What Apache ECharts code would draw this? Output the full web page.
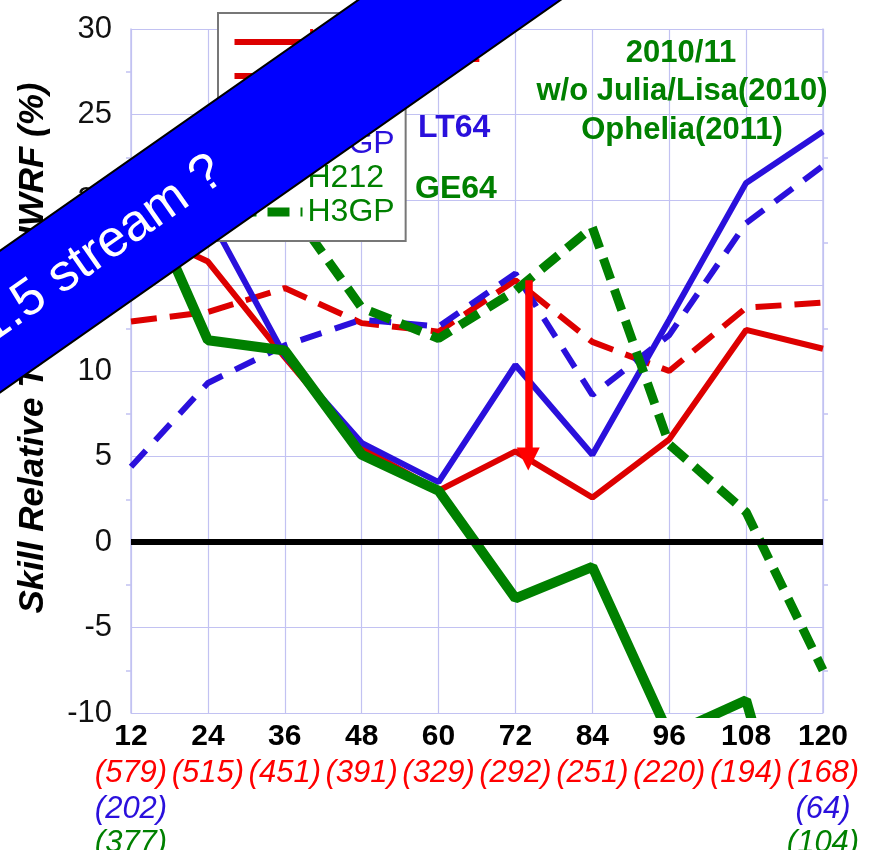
<!DOCTYPE html>
<html>
<head>
<meta charset="utf-8">
<script src="https://cdn.jsdelivr.net/npm/echarts@6/dist/echarts.min.js"></script>
<style>
  html, body { margin: 0; padding: 0; background: #fff; }
  #chart { width: 883px; height: 850px; }
</style>
</head>
<body>
<div id="chart"></div>
<script>
// Forecast hours on the x axis
const hours = [12, 24, 36, 48, 60, 72, 84, 96, 108, 120];

// Skill (%) of each configuration, one value per forecast hour
const allH212  = [18.5, 16.4, 10.8, 5.5, 3.0, 5.3, 2.6, 6.0, 12.4, 11.3];
const allH3GP  = [12.9, 13.45, 14.85, 12.8, 12.3, 15.3, 11.7, 10.0, 13.7, 14.0];
const lt64H212 = [18.0, 19.2, 10.9, 5.8, 3.5, 10.35, 5.1, 13.0, 21.0, 24.0];
const lt64H3GP = [4.4, 9.3, 11.5, 13.0, 12.6, 15.7, 8.6, 12.1, 18.65, 22.0];
const ge64H212 = [22.0, 11.8, 11.2, 5.1, 3.0, -3.3, -1.45, -11.3, -9.25, -25.0];
const ge64H3GP = [21.0, 21.0, 20.0, 13.7, 11.9, 14.7, 18.4, 5.7, 1.75, -7.5];

// Number of verifying cases per forecast hour
const allCounts  = [579, 515, 451, 391, 329, 292, 251, 220, 194, 168];
const lt64Counts = [202, null, null, null, null, null, null, null, null, 64];
const ge64Counts = [377, null, null, null, null, null, null, null, null, 104];

// y-axis ticks
const yTicks = { min: -10, max: 30, step: 5 };

// Drop marker between the two ALL curves at 72 h
const dropArrow = { hour: 74, from: 15.3, to: 4.85 };

const FONT = '"Liberation Sans", Arial, Helvetica, sans-serif';
const RED = '#dd0000', RED_TXT = '#ff0000';
const BLUE = '#2a10dc';
const GREEN = '#008000';
const GRID = '#c2c2f2';

const lineDefs = [
  { name: 'ALL H212',  values: allH212,  color: RED,   text: RED_TXT, width: 6,  type: 'solid' },
  { name: 'ALL H3GP',  values: allH3GP,  color: RED,   text: RED_TXT, width: 6,  type: [26, 13] },
  { name: 'LT64 H212', values: lt64H212, color: BLUE,  text: BLUE,    width: 6,  type: 'solid' },
  { name: 'LT64 H3GP', values: lt64H3GP, color: BLUE,  text: BLUE,    width: 6,  type: [22, 14] },
  { name: 'GE64 H212', values: ge64H212, color: GREEN, text: GREEN,   width: 10, type: 'solid' },
  { name: 'GE64 H3GP', values: ge64H3GP, color: GREEN, text: GREEN,   width: 9,  type: [22, 11] }
];

const series = lineDefs.map(d => ({
  name: d.name,
  type: 'line',
  symbol: 'none',
  showSymbol: false,
  silent: true,
  z: 3,
  data: hours.map((h, i) => [h, d.values[i]]),
  lineStyle: { color: d.color, width: d.width, type: d.type },
  itemStyle: { color: d.color }
}));

// zero reference line, drawn beneath the curves
series.unshift({
  name: 'zero', type: 'line', data: [], silent: true, z: 2,
  markLine: {
    silent: true, symbol: 'none', label: { show: false }, animation: false,
    lineStyle: { color: '#000', width: 6, type: 'solid' },
    data: [{ yAxis: 0 }]
  }
});

// red arrow on top of everything
series.push({
  name: 'drop', type: 'line', data: [], silent: true, z: 10,
  markLine: {
    silent: true, symbol: ['none', 'triangle'], symbolSize: 23,
    label: { show: false }, animation: false,
    lineStyle: { color: '#ff0000', width: 7.5, type: 'solid' },
    itemStyle: { color: '#ff0000' },
    data: [[{ coord: [dropArrow.hour, dropArrow.from] }, { coord: [dropArrow.hour, dropArrow.to] }]]
  }
});

function hourLabel(value) {
  const i = hours.indexOf(value);
  let s = '{t|' + value + '}';
  if (i < 0) return s;
  s += '\n{r|(' + allCounts[i] + ')}';
  if (lt64Counts[i] != null) s += '\n{b|(' + lt64Counts[i] + ')}';
  if (ge64Counts[i] != null) s += '\n{g|(' + ge64Counts[i] + ')}';
  return s;
}

function txt(x, y, text, color, font, align) {
  return {
    type: 'text', x: x, y: y, z: 20,
    style: {
      text: text, fill: color, font: font,
      align: align || 'center', verticalAlign: 'middle',
      textAlign: align || 'center', textVerticalAlign: 'middle'
    }
  };
}

const option = {
  animation: false,
  backgroundColor: '#fff',
  textStyle: { fontFamily: FONT },
  grid: { left: 131, top: 29, width: 692, height: 684, containLabel: false, outerBoundsMode: 'none' },
  xAxis: {
    type: 'value', min: 12, max: 120, interval: 12,
    axisLine: { show: true, lineStyle: { color: GRID, width: 1.5 } },
    axisTick: { show: false },
    splitLine: { show: true, lineStyle: { color: GRID, width: 1.2 } },
    axisLabel: {
      margin: 6,
      formatter: hourLabel,
      rich: {
        t: { fontSize: 30, fontWeight: 'bold', color: '#000', lineHeight: 36, fontFamily: FONT },
        r: { fontSize: 31, fontStyle: 'italic', color: RED_TXT, lineHeight: 37, fontFamily: FONT },
        b: { fontSize: 31, fontStyle: 'italic', color: BLUE, lineHeight: 34, fontFamily: FONT },
        g: { fontSize: 31, fontStyle: 'italic', color: GREEN, lineHeight: 34, fontFamily: FONT }
      }
    }
  },
  yAxis: [
    {
      type: 'value', min: yTicks.min, max: yTicks.max, interval: yTicks.step,
      axisLine: { show: true, lineStyle: { color: GRID, width: 1.5 } },
      axisTick: { show: false, inside: false },
      minorTick: { show: true, splitNumber: 2, length: 5, lineStyle: { color: GRID, width: 1.5 } },
      splitLine: { show: true, lineStyle: { color: GRID, width: 1.2 } },
      axisLabel: { fontSize: 31, color: '#111', margin: 19, padding: [0, 0, 12, 0], fontFamily: FONT }
    },
    {
      type: 'value', position: 'right', min: yTicks.min, max: yTicks.max, interval: yTicks.step,
      axisLine: { show: true, lineStyle: { color: GRID, width: 1.5 } },
      axisTick: { show: false, inside: false },
      minorTick: { show: true, splitNumber: 2, length: 5, lineStyle: { color: GRID, width: 1.5 } },
      splitLine: { show: false },
      axisLabel: { show: false }
    }
  ],
  legend: {
    orient: 'vertical', left: 218, top: 13,
    padding: [12, 11, 12, 12],
    itemWidth: 68, itemHeight: 14, itemGap: 0,
    selectedMode: false,
    backgroundColor: '#fff', borderColor: '#777', borderWidth: 2,
    itemStyle: { opacity: 0, borderWidth: 0 },
    textStyle: { fontSize: 32, lineHeight: 34, fontFamily: FONT },
    formatter: name => name.split(' ')[1],
    data: lineDefs.map(d => ({
      name: d.name,
      itemStyle: { opacity: 0, borderWidth: 0 },
      textStyle: { color: d.text, fontSize: 32, lineHeight: 34 },
      lineStyle: { width: d.width === 10 ? 7 : d.width, type: d.type, color: d.color }
    }))
  },
  graphic: [
    // y-axis title
    {
      type: 'text', x: 33, y: 348, rotation: Math.PI / 2, z: 20,
      style: {
        text: 'Skill Relative To 2011 HWRF (%)', fill: '#000',
        font: 'italic bold 35px ' + FONT,
        align: 'center', verticalAlign: 'middle',
        textAlign: 'center', textVerticalAlign: 'middle'
      }
    },
    // group labels
    txt(418, 53, 'ALL', RED_TXT, 'bold 32px ' + FONT, 'left'),
    txt(418, 128, 'LT64', BLUE, 'bold 32px ' + FONT, 'left'),
    txt(415, 189, 'GE64', GREEN, 'bold 32px ' + FONT, 'left'),
    // sample description
    txt(681, 53, '2010/11', GREEN, 'bold 31px ' + FONT),
    txt(682, 91, 'w/o Julia/Lisa(2010)', GREEN, 'bold 31px ' + FONT),
    txt(682, 130, 'Ophelia(2011)', GREEN, 'bold 31px ' + FONT),
    // diagonal banner
    {
      type: 'group', x: 200, y: 181.6, rotation: 35 * Math.PI / 180, z: 100,
      children: [
        {
          type: 'rect', z: 100,
          shape: { x: -700, y: -58, width: 1400, height: 116 },
          style: { fill: '#0000ff', stroke: '#000', lineWidth: 2 }
        },
        {
          type: 'text', x: 24, y: -1, z: 101,
          style: {
            text: '1.5 stream ?', fill: '#fff', font: '52px ' + FONT,
            align: 'right', verticalAlign: 'middle',
            textAlign: 'right', textVerticalAlign: 'middle'
          }
        }
      ]
    }
  ],
  series: series
};

const chart = echarts.init(document.getElementById('chart'), null, { renderer: 'canvas' });
chart.setOption(option);
</script>
</body>
</html>
